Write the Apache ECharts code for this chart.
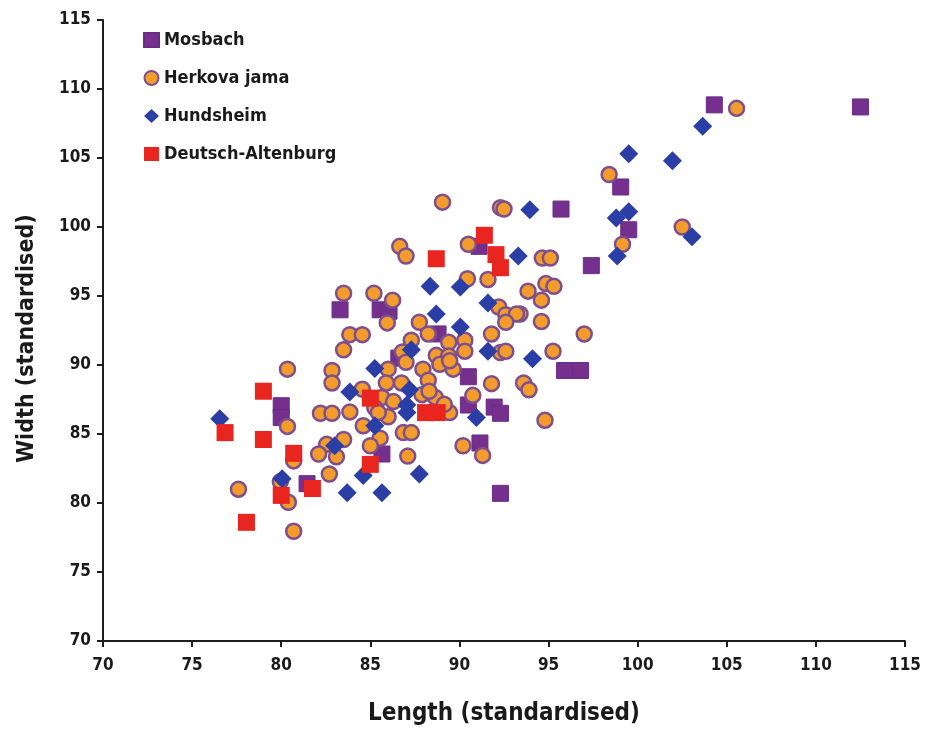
<!DOCTYPE html>
<html>
<head>
<meta charset="utf-8">
<script src="https://cdn.jsdelivr.net/npm/echarts@6/dist/echarts.min.js"></script>
<style>html,body{margin:0;padding:0;background:#fff}#c{width:933px;height:731px}</style>
</head>
<body>
<div id="c"></div>
<script>
const seriesNames = ['Mosbach', 'Herkova jama', 'Hundsheim', 'Deutsch-Altenburg'];
const xTicks = [70, 75, 80, 85, 90, 95, 100, 105, 110, 115];

const mosbach = [
  [104.3,108.85],[112.5,108.7],[99.05,102.9],[95.7,101.3],[99.5,99.8],[97.4,97.2],
  [91.1,98.6],[95.9,89.6],[96.8,89.6],[90.5,89.15],[90.5,87.1],[91.95,86.95],
  [92.3,86.5],[91.15,84.35],[92.3,80.7],[88.8,92.25],[83.3,94.0],[85.55,94.0],
  [86.05,93.9],[86.6,90.5],[80.0,87.05],[80.0,86.2],[81.45,81.4],[85.65,83.55]
];
const herkova = [
  [105.55,108.6],[98.4,103.8],[102.5,100.0],[99.15,98.75],[94.65,97.75],[95.1,97.75],
  [94.85,95.9],[95.3,95.7],[93.85,95.35],[94.6,94.7],[93.4,93.7],[94.6,93.15],
  [97.0,92.25],[95.25,91.0],[93.6,88.7],[93.9,88.2],[94.8,86.0],[89.05,101.8],
  [92.3,101.4],[92.5,101.3],[90.5,98.75],[90.45,96.25],[91.6,96.2],[92.2,94.2],
  [92.6,93.65],[93.2,93.7],[92.6,93.1],[87.75,93.1],[91.8,92.25],[88.25,92.25],
  [89.4,91.65],[90.3,91.8],[90.3,91.0],[88.7,90.7],[89.4,90.65],[88.9,90.05],
  [89.65,89.7],[87.95,89.7],[88.25,88.9],[87.9,87.85],[88.65,87.65],[92.3,90.9],
  [92.6,91.0],[91.8,88.65],[90.75,87.8],[89.45,86.55],[90.2,84.15],[91.3,83.45],
  [86.0,89.7],[86.8,90.95],[87.0,90.2],[87.3,91.8],[89.45,90.3],[88.3,88.1],
  [89.15,87.15],[84.55,88.25],[85.65,87.65],[85.25,86.9],[86.3,87.35],[86.0,86.25],
  [85.45,86.55],[86.75,88.7],[85.9,88.7],[84.6,85.6],[85.55,84.7],[85.0,84.15],
  [87.1,83.4],[86.85,85.1],[87.3,85.1],[80.35,89.7],[82.85,89.6],[82.85,88.7],
  [80.35,85.55],[82.2,86.5],[82.85,86.5],[83.85,86.6],[83.5,84.6],[82.55,84.25],
  [82.1,83.55],[83.1,83.35],[80.7,83.05],[82.7,82.1],[77.6,81.0],[79.95,81.55],
  [80.4,80.05],[80.7,77.95],[83.5,91.1],[83.85,92.2],[84.55,92.2],[83.5,95.2],
  [85.2,95.2],[86.25,94.7],[85.95,93.05],[86.65,98.6],[87.0,97.9]
];
const hundsheim = [
  [103.65,107.3],[99.5,105.3],[101.95,104.8],[98.8,100.65],[99.5,101.1],[103.05,99.3],
  [98.85,97.9],[93.95,101.25],[93.3,97.9],[94.1,90.45],[88.35,95.7],[90.05,95.65],
  [91.6,94.5],[88.7,93.7],[90.05,92.75],[91.6,91.0],[90.95,86.2],[87.3,91.1],
  [85.25,89.75],[83.85,88.05],[87.2,88.2],[87.05,87.1],[87.05,86.55],[85.25,85.6],
  [83.0,84.15],[76.55,86.1],[84.6,82.0],[87.75,82.1],[83.7,80.75],[85.65,80.75],
  [80.05,81.75]
];
const deutschAltenburg = [
  [91.4,99.4],[92.05,98.0],[92.3,97.05],[88.7,97.7],[88.1,86.55],[88.75,86.55],
  [79.0,88.1],[76.85,85.1],[79.0,84.6],[85.0,87.6],[80.7,83.6],[85.0,82.8],
  [81.75,81.05],[80.0,80.55],[78.05,78.6]
];

const FONT = '"DejaVu Sans Condensed", "Liberation Sans Narrow", "DejaVu Sans", sans-serif';
const chart = echarts.init(document.getElementById('c'), null, {renderer: 'canvas'});
const axisCommon = {
  type: 'value', min: 70, max: 115, interval: 5,
  axisLine: {show: true, onZero: false, lineStyle: {color: '#1e1e1e', width: 2}},
  axisTick: {show: true, length: 6, lineStyle: {color: '#1e1e1e', width: 2}},
  splitLine: {show: false},
  axisLabel: {color: '#1a1a1a', fontFamily: FONT, fontWeight: 'bold', fontSize: 17},
  nameTextStyle: {color: '#1a1a1a', fontFamily: FONT, fontWeight: 'bold', fontSize: 23},
  nameLocation: 'middle'
};
chart.setOption({
  backgroundColor: '#ffffff',
  animation: false,
  grid: {left: 103, right: 28, top: 20, bottom: 87, containLabel: false},
  legend: {
    orient: 'vertical', left: 138, top: 26, itemWidth: 15, itemHeight: 14, itemGap: 20,
    data: seriesNames,
    textStyle: {color: '#1a1a1a', fontFamily: FONT, fontWeight: 'bold', fontSize: 18}
  },
  xAxis: Object.assign({}, axisCommon, {
    name: 'Length (standardised)', nameGap: 61,
    nameTextStyle: Object.assign({}, axisCommon.nameTextStyle, {fontSize: 24}),
    axisLabel: Object.assign({}, axisCommon.axisLabel, {margin: 16}),
  }),
  yAxis: Object.assign({}, axisCommon, {
    name: 'Width (standardised)', nameGap: 64, nameRotate: 90,
    nameTextStyle: Object.assign({}, axisCommon.nameTextStyle, {padding: [0, 16, 0, 0]}),
    axisLabel: Object.assign({}, axisCommon.axisLabel, {margin: 12}),
  }),
  series: [
    {name: seriesNames[0], type: 'scatter', data: mosbach, symbol: 'rect', symbolSize: 16, z: 2,
     itemStyle: {color: '#74308c', borderColor: '#6a2c86', borderWidth: 1, opacity: 1}},
    {name: seriesNames[1], type: 'scatter', data: herkova, symbol: 'circle', symbolSize: 15, z: 3,
     itemStyle: {color: '#f39c2c', borderColor: '#7d4f8e', borderWidth: 2.5, opacity: 1}},
    {name: seriesNames[2], type: 'scatter', data: hundsheim, symbol: 'diamond', symbolSize: 19, z: 4,
     itemStyle: {color: '#2b3ea6', borderColor: '#2b3ea6', borderWidth: 0, opacity: 1}},
    {name: seriesNames[3], type: 'scatter', data: deutschAltenburg, symbol: 'rect', symbolSize: 17, z: 5,
     itemStyle: {color: '#e8251f', borderColor: '#e8251f', borderWidth: 0, opacity: 1}}
  ]
});
</script>
</body>
</html>
